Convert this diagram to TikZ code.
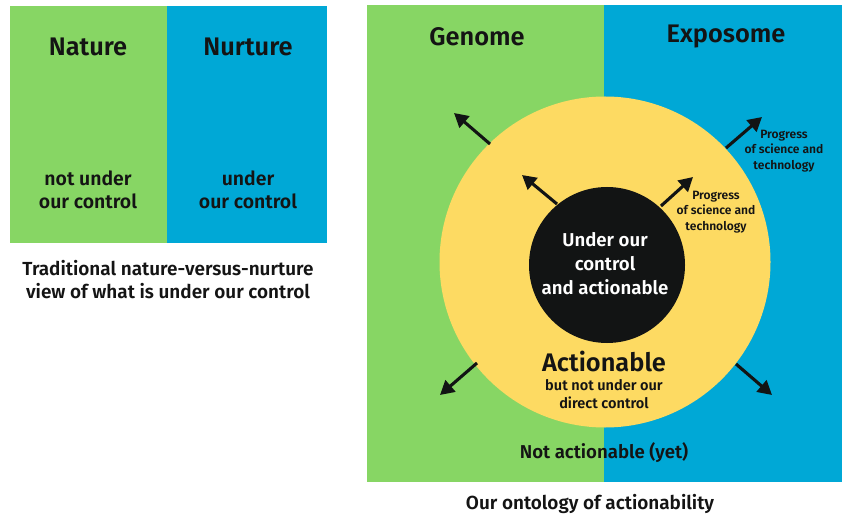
\documentclass[tikz,border=0pt]{standalone}
\usepackage{fontspec}
\IfFontExistsTF{Fira Sans SemiBold}{\setmainfont{Fira Sans SemiBold}[BoldFont={Fira Sans Bold}]}{\setmainfont{PT Sans}}
\usetikzlibrary{arrows.meta}
\definecolor{natgreen}{RGB}{135,214,100}
\definecolor{nurblue}{RGB}{0,168,214}
\definecolor{actyellow}{RGB}{253,218,98}
\definecolor{ctrlblack}{RGB}{18,20,20}
\definecolor{txt}{RGB}{20,20,20}
\tikzset{
  title/.style={text=txt, font=\fontsize{25.5}{28}\selectfont, inner sep=0pt},
  body/.style={text=txt, font=\fontsize{19}{23}\selectfont, align=center, inner sep=0pt},
  small/.style={text=txt, font=\fontsize{12.1}{15.5}\selectfont, align=center, inner sep=0pt},
  push/.style={line width=3.1pt, draw=ctrlblack, -{Triangle[length=14pt,width=15pt]}},
}
\begin{document}
\begin{tikzpicture}[x=1bp,y=-1bp]
\useasboundingbox (0,0) rectangle (843,516);
% left panel
\fill[natgreen] (10,6) rectangle (167,243);
\fill[nurblue] (167,6) rectangle (327,243);
\node[title] (nature) at (88,47) {Nature};
\node[title] (nurture) at (248,47) {Nurture};
\node[body, font=\fontsize{19.5}{23}\selectfont] (notctrl) at (88,190) {not under\\our control};
\node[body, font=\fontsize{19.5}{23}\selectfont] (ctrl) at (248,190) {under\\our control};
\node[body] (cap1) at (168,280) {Traditional nature-versus-nurture\\view of what is under our control};
% right panel
\fill[natgreen] (367,5) rectangle (604,482);
\fill[nurblue] (604,5) rectangle (842,482);
\node[title] (genome) at (477,37) {Genome};
\node[title] (exposome) at (726,37) {Exposome};
\node[circle, fill=actyellow, minimum size=331bp, inner sep=0pt] (act) at (605,262) {};
\node[circle, fill=ctrlblack, minimum size=156bp, inner sep=0pt] (core) at (607,265) {};
\node[body, text=white, font=\fontsize{18.7}{24}\selectfont] (coretxt) at (605,264) {Under our\\control\\and actionable};
\node[title, font=\fontsize{25.5}{28}\selectfont] (actl) at (604,362) {Actionable};
\node[small, font=\fontsize{14.6}{18}\selectfont] (actsub) at (604,394) {but not under our\\direct control};
\node[body, font=\fontsize{18.7}{23}\selectfont] (notact) at (604,453) {Not actionable (yet)};
\node[body] (cap2) at (590,504) {Our ontology of actionability};
% arrows
\coordinate (o1s) at (490,144); \coordinate (o1t) at (454,113);
\coordinate (o2s) at (726,148); \coordinate (o2t) at (762,117);
\coordinate (o3s) at (477,363); \coordinate (o3t) at (440,395);
\coordinate (o4s) at (736,364); \coordinate (o4t) at (772,395);
\coordinate (i1s) at (557,204); \coordinate (i1t) at (522,175);
\coordinate (i2s) at (661,206); \coordinate (i2t) at (693,177);
\draw[push] (o1s) -- (o1t);
\draw[push] (o2s) -- (o2t);
\draw[push] (o3s) -- (o3t);
\draw[push] (o4s) -- (o4t);
\draw[push] (i1s) -- (i1t);
\draw[push] (i2s) -- (i2t);
\node[small] (prog1) at (784,151) {Progress\\of science and\\technology};
\node[small] (prog2) at (716,212) {Progress\\of science and\\technology};
\end{tikzpicture}
\end{document}
